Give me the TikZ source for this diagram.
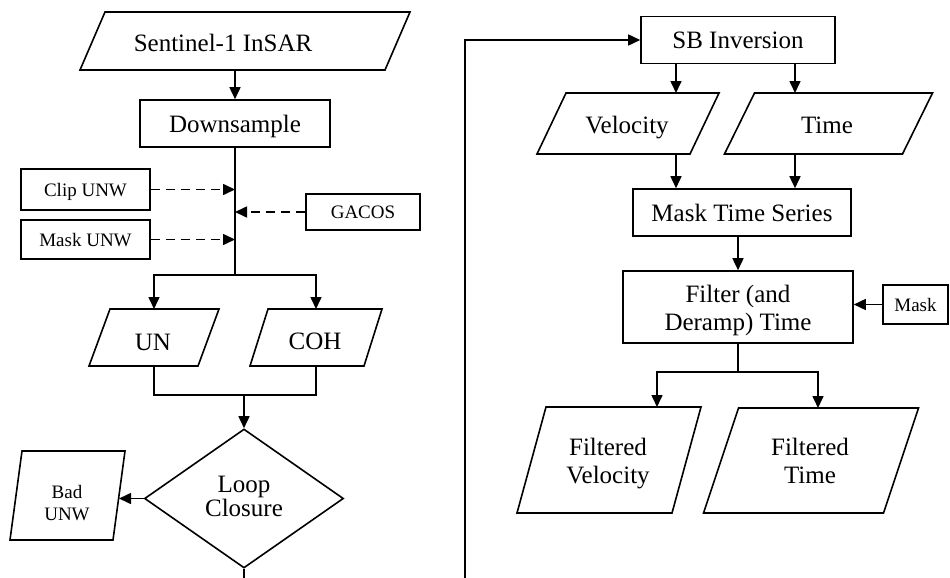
\documentclass[tikz,border=0pt]{standalone}
\usepackage{fontspec}
\setmainfont{Liberation Serif}
\usetikzlibrary{arrows.meta,shapes.geometric}

\newcommand\bigtxt{\fontsize{25}{28}\selectfont}
\newcommand\smalltxt{\fontsize{19}{22}\selectfont}
% line struts so that stacked lines sit at fixed baselines
\newcommand\bigstrut{\vrule width 0pt height 18pt depth 6pt}
\newcommand\smallstrut{\vrule width 0pt height 14pt depth 5pt}

\tikzset{
  wire/.style={line width=1.6pt},
  arr/.style={wire,-{Triangle[length=12pt,width=11pt]}},
  dasharr/.style={arr,dash pattern=on 9pt off 6pt},
  procbox/.style={draw,line width=1.6pt,inner sep=0pt,align=center,font=\bigtxt,text depth=0pt},
  smallbox/.style={procbox,font=\smalltxt},
  pshape/.style={inner sep=0pt,outer sep=0pt},
  emptybox/.style={draw,line width=1.6pt,inner sep=0pt},
  outline/.style={line width=1.6pt,line join=miter},
  bigtxt/.style={font=\bigtxt,align=center,inner sep=0pt},
  smalltxt/.style={font=\smalltxt,align=center,inner sep=0pt},
}

% parallelogram (data) outline around an empty node; #2 = horizontal lean
\newcommand\paraoutline[2]{%
  \draw[outline] ([xshift=#2*0.5pt]#1.north west) -- ([xshift=#2*0.5pt]#1.north east)
    -- ([xshift=-#2*0.5pt]#1.south east) -- ([xshift=-#2*0.5pt]#1.south west) -- cycle;}

\begin{document}
\begin{tikzpicture}[x=1pt,y=-1pt]
\useasboundingbox (0,0) rectangle (950,578);

% ---------- left column ----------
\node[pshape,minimum width=305pt,minimum height=58pt] (s1) at (245,41) {};
\paraoutline{s1}{25}
\node[bigtxt,anchor=base] (s1T) at (223,52) {Sentinel-1 InSAR};

\node[procbox,minimum width=190pt,minimum height=47pt] (down) at (235,123.5) {Downsample};
\coordinate (j1) at (235,275);

\node[smallbox,minimum width=129pt,minimum height=41pt] (clip) at (85.5,189.5) {Clip UNW};
\node[smallbox,minimum width=129pt,minimum height=39pt] (mskunw) at (85.5,239.5) {Mask UNW};
\node[smallbox,minimum width=114pt,minimum height=36pt] (gacos) at (363,212) {GACOS};

\node[pshape,minimum width=109pt,minimum height=57pt] (un) at (154,337.5) {};
\paraoutline{un}{21}
\node[bigtxt,anchor=base] (unT) at (153,350) {UN};

\node[pshape,minimum width=114pt,minimum height=57pt] (coh) at (316,337.5) {};
\paraoutline{coh}{18}
\node[bigtxt,anchor=base] (cohT) at (315,349.5) {COH};

\coordinate (j2) at (244,395);

\node[draw,diamond,line width=1.6pt,inner sep=0pt,aspect=1.43,
      minimum width=199pt,minimum height=139pt,align=center,
      font=\fontsize{25}{24}\selectfont]
      (loop) at (244,498.5) {Loop\bigstrut\\Closure\bigstrut};

\node[pshape,minimum width=103pt,minimum height=89pt] (bad) at (67.5,495.5) {};
\paraoutline{bad}{12}
\node[smalltxt] (badT) at (67,504.5) {Bad\smallstrut\\UNW\smallstrut};

\coordinate (exitL) at (244,578);

% ---------- right column ----------
\coordinate (exitR) at (465,578);
\node[procbox,minimum width=194pt,minimum height=47pt] (sb) at (738,40) {SB Inversion};
\coordinate (colA) at (676,0);
\coordinate (colB) at (795,0);

\node[pshape,minimum width=153pt,minimum height=61pt] (vel) at (628,123.5) {};
\paraoutline{vel}{29}
\node[bigtxt,anchor=base] (velT) at (627,133) {Velocity};

\node[pshape,minimum width=178pt,minimum height=61pt] (time) at (828.5,123.5) {};
\paraoutline{time}{30}
\node[bigtxt,anchor=base] (timeT) at (827,133) {Time};

\node[procbox,minimum width=218pt,minimum height=47pt] (mts) at (742,212.5) {Mask Time Series};

\node[emptybox,minimum width=230pt,minimum height=72pt] (filt) at (738,307) {};
\node[bigtxt] (filtT) at (738,310.7) {Filter (and\bigstrut\\Deramp) Time\bigstrut};

\node[smallbox,minimum width=65pt,minimum height=39pt] (mask) at (915.5,304.5) {Mask};

\coordinate (j3) at (738,372);
\coordinate (colC) at (657,0);
\coordinate (colD) at (818,0);

\node[pshape,minimum width=155pt,minimum height=106pt] (fvel) at (609,460) {};
\paraoutline{fvel}{29}
\node[bigtxt] (fvelT) at (608,463) {Filtered\bigstrut\\Velocity\bigstrut};

\node[pshape,minimum width=180pt,minimum height=105pt] (ftime) at (811,460.5) {};
\paraoutline{ftime}{35}
\node[bigtxt] (ftimeT) at (810,463) {Filtered\bigstrut\\Time\bigstrut};

% ---------- connectors, left ----------
\draw[arr] (down.north |- s1.south) -- (down.north);
\draw[wire] (down.south) -- (j1);
\draw[arr] (j1) -| (un.north);
\draw[arr] (j1) -| (coh.north);
\draw[dasharr] (clip.east) -- (clip.east -| j1);
\draw[dasharr] (mskunw.east) -- (mskunw.east -| j1);
\draw[dasharr] (gacos.west) -- (gacos.west -| j1);
\draw[wire] (un.south) |- (j2) -| (coh.south);
\draw[arr] (j2) -- (loop.north);
\draw[arr] (loop.west) -- (loop.west -| bad.east);
\draw[wire] (loop.south) -- (exitL);

% ---------- connectors, right ----------
\draw[arr] (exitR) |- (sb.west);
\draw[arr] (colA |- sb.south) -- (colA |- vel.north);
\draw[arr] (colB |- sb.south) -- (colB |- time.north);
\draw[arr] (colA |- vel.south) -- (colA |- mts.north);
\draw[arr] (colB |- time.south) -- (colB |- mts.north);
\draw[arr] (mts.south -| filt.north) -- (filt.north);
\draw[arr] (mask.west) -- (mask.west -| filt.east);
\draw[wire] (filt.south) -- (j3);
\draw[arr] (j3) -| (colC |- fvel.north);
\draw[arr] (j3) -| (colD |- ftime.north);
\end{tikzpicture}
\end{document}
